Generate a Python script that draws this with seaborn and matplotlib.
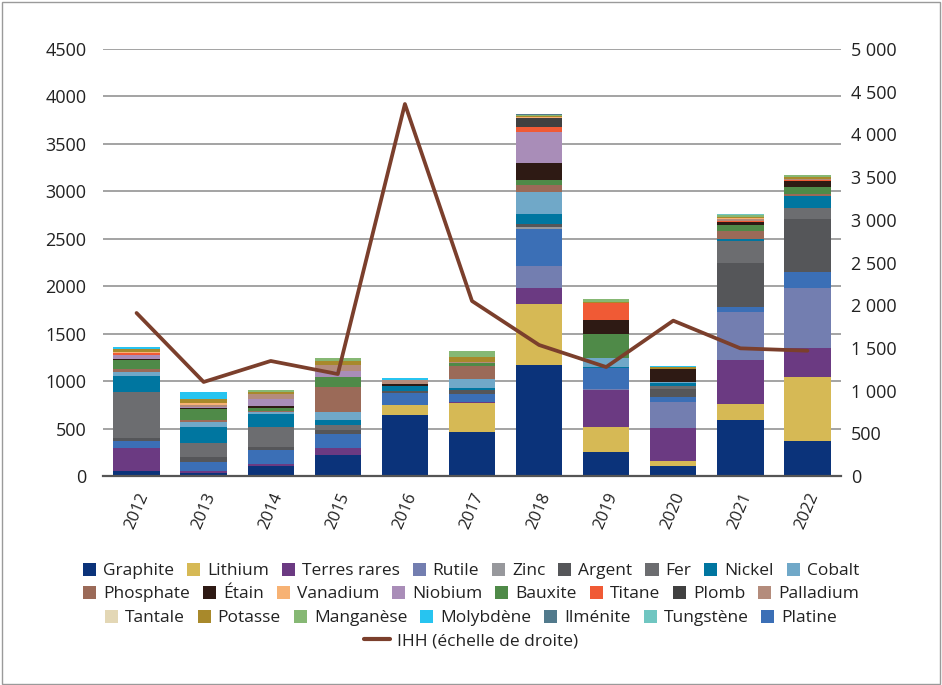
import numpy as np
import matplotlib
matplotlib.use('Agg')
import matplotlib.pyplot as plt
from matplotlib.patches import Patch, Rectangle
from matplotlib.lines import Line2D
from matplotlib.ticker import FuncFormatter, MultipleLocator
import seaborn as sns

years = ['2012', '2013', '2014', '2015', '2016', '2017', '2018', '2019', '2020', '2021', '2022']

# values, one list per mineral (2012 -> 2022)
graphite = [53, 28, 105, 221, 643, 464, 1166, 249, 102, 590, 372]
lithium = [0, 0, 0, 0, 105, 306, 643, 264, 53, 169, 675]
terres_rares = [246, 21, 25, 74, 0, 14, 172, 397, 351, 464, 306]
rutile = [0, 0, 0, 0, 0, 0, 232, 7, 271, 506, 632]
platine = [70, 98, 144, 148, 126, 81, 386, 221, 53, 53, 169]
zinc = [0, 0, 0, 0, 0, 0, 20, 0, 0, 0, 0]
argent = [35, 53, 32, 42, 21, 42, 33, 0, 84, 464, 555]
fer = [480, 144, 211, 53, 0, 0, 0, 0, 39, 232, 119]
nickel = [175, 172, 140, 53, 56, 21, 105, 11, 28, 21, 123]
cobalt = [42, 53, 14, 84, 0, 95, 232, 91, 11, 0, 0]
phosphate = [28, 25, 11, 264, 0, 137, 74, 0, 0, 84, 21]
bauxite = [98, 109, 35, 105, 0, 35, 53, 253, 0, 63, 74]
etain = [11, 14, 21, 0, 14, 0, 179, 148, 134, 32, 63]
niobium = [35, 14, 77, 63, 0, 0, 334, 0, 0, 0, 0]
titane = [20, 0, 0, 0, 0, 0, 49, 183, 0, 14, 10]
plomb = [0, 0, 0, 0, 0, 0, 95, 0, 0, 0, 0]
palladium = [0, 14, 46, 63, 49, 7, 0, 0, 0, 14, 11]
vanadium = [10, 21, 0, 0, 0, 0, 10, 0, 0, 10, 0]
potasse = [39, 46, 21, 39, 0, 53, 15, 11, 18, 14, 21]
manganese = [0, 0, 25, 39, 0, 63, 10, 28, 0, 21, 21]
tantale = [0, 0, 0, 0, 0, 0, 0, 0, 0, 0, 0]
molybdene = [18, 70, 0, 0, 18, 0, 0, 0, 14, 0, 0]
ilmenite = [0, 0, 0, 0, 0, 0, 11, 0, 0, 0, 0]
tungstene = [0, 0, 0, 0, 0, 0, 0, 0, 0, 11, 0]

ihh = [1909, 1101, 1347, 1194, 4356, 2049, 1534, 1276, 1819, 1495, 1467]

# stacking order, bottom to top
stack = [
    ('Graphite', graphite, '#0b337a'),
    ('Lithium', lithium, '#d6b955'),
    ('Terres rares', terres_rares, '#6b3a82'),
    ('Rutile', rutile, '#737eb0'),
    ('Platine', platine, '#3b6fb6'),
    ('Zinc', zinc, '#97989c'),
    ('Argent', argent, '#555659'),
    ('Fer', fer, '#6c6d70'),
    ('Nickel', nickel, '#0076a0'),
    ('Cobalt', cobalt, '#70a8c8'),
    ('Phosphate', phosphate, '#9b6a58'),
    ('Bauxite', bauxite, '#4f8a48'),
    ('Étain', etain, '#2e1a14'),
    ('Niobium', niobium, '#a98db8'),
    ('Titane', titane, '#f05a35'),
    ('Plomb', plomb, '#404040'),
    ('Palladium', palladium, '#b48c7c'),
    ('Vanadium', vanadium, '#f7b274'),
    ('Potasse', potasse, '#a8892b'),
    ('Manganèse', manganese, '#86b874'),
    ('Tantale', tantale, '#e3d7b5'),
    ('Molybdène', molybdene, '#27c4f0'),
    ('Ilménite', ilmenite, '#527a8c'),
    ('Tungstène', tungstene, '#70c6c1'),
]
colors = {name: c for name, _, c in stack}

legend_rows = [
    ['Graphite', 'Lithium', 'Terres rares', 'Rutile', 'Zinc', 'Argent', 'Fer', 'Nickel', 'Cobalt'],
    ['Phosphate', 'Étain', 'Vanadium', 'Niobium', 'Bauxite', 'Titane', 'Plomb', 'Palladium'],
    ['Tantale', 'Potasse', 'Manganèse', 'Molybdène', 'Ilménite', 'Tungstène', 'Platine'],
]

sns.set_style('white')
plt.rcParams['font.family'] = ['Open Sans', 'DejaVu Sans']
line_color = '#7b3f2c'

fig = plt.figure(figsize=(9.42, 6.85), dpi=100)
ax = fig.add_axes([103 / 942, 1 - 476 / 685, (841 - 103) / 942, (476 - 49) / 685])

# stacked bars: draw cumulative totals from the top down so lower series paint over
cum = np.cumsum(np.array([vals for _, vals, _ in stack]), axis=0)
for k in range(len(stack) - 1, -1, -1):
    sns.barplot(x=years, y=cum[k], color=stack[k][2], saturation=1, width=0.69,
                errorbar=None, linewidth=0, edgecolor='none', ax=ax)

ax.set_xlim(-0.5, 10.5)
ax.set_ylim(0, 4500)
ax.yaxis.set_major_locator(MultipleLocator(500))
ax.grid(axis='y', color='#8a8a8a', linewidth=1.1)
ax.set_axisbelow(True)
for s in ['top', 'right', 'left']:
    ax.spines[s].set_visible(False)
ax.spines['bottom'].set_color('#555555')
ax.spines['bottom'].set_linewidth(1.6)
ax.set_xlabel('')
ax.set_ylabel('')
ax.tick_params(axis='x', length=7, width=1, color='#444444', pad=3, labelsize=12, labelcolor='#222222')
ax.tick_params(axis='y', length=0, pad=12, labelsize=13, labelcolor='#222222')
for lab in ax.get_xticklabels():
    lab.set_rotation(67)
    lab.set_ha('right')
    lab.set_rotation_mode('anchor')

ax2 = ax.twinx()
sns.lineplot(x=np.arange(len(years)), y=ihh, color=line_color, linewidth=2.7, ax=ax2)
ax2.set_ylim(0, 5000)
ax2.yaxis.set_major_locator(MultipleLocator(500))
ax2.yaxis.set_major_formatter(FuncFormatter(lambda v, p: f'{int(v):,}'.replace(',', ' ')))
ax2.tick_params(axis='y', length=0, pad=7, labelsize=13, labelcolor='#222222')
ax2.grid(False)
for s in ['top', 'right', 'left', 'bottom']:
    ax2.spines[s].set_visible(False)
ax2.set_ylabel('')

# legend, one centred row at a time
row_y = [1 - 571 / 685, 1 - 594 / 685, 1 - 618 / 685]
for names, y in zip(legend_rows, row_y):
    handles = [Patch(facecolor=colors[n], edgecolor='none') for n in names]
    fig.legend(handles, names, loc='center', bbox_to_anchor=(0.5, y), ncol=len(names),
               frameon=False, fontsize=12.5, handlelength=0.75, handleheight=0.75,
               handletextpad=0.4, columnspacing=0.75, borderpad=0, labelcolor='#222222')
fig.legend([Line2D([0], [0], color=line_color, linewidth=3)], ['IHH (échelle de droite)'],
           loc='center', bbox_to_anchor=(0.5, 1 - 641 / 685), frameon=False, fontsize=12.5,
           handlelength=1.5, handletextpad=0.4, borderpad=0, labelcolor='#222222')

fig.patches.append(Rectangle((0.002, 0.002), 0.996, 0.995, transform=fig.transFigure,
                             fill=False, edgecolor='#9a9a9a', linewidth=1))

fig.savefig('out.png', dpi=100)
